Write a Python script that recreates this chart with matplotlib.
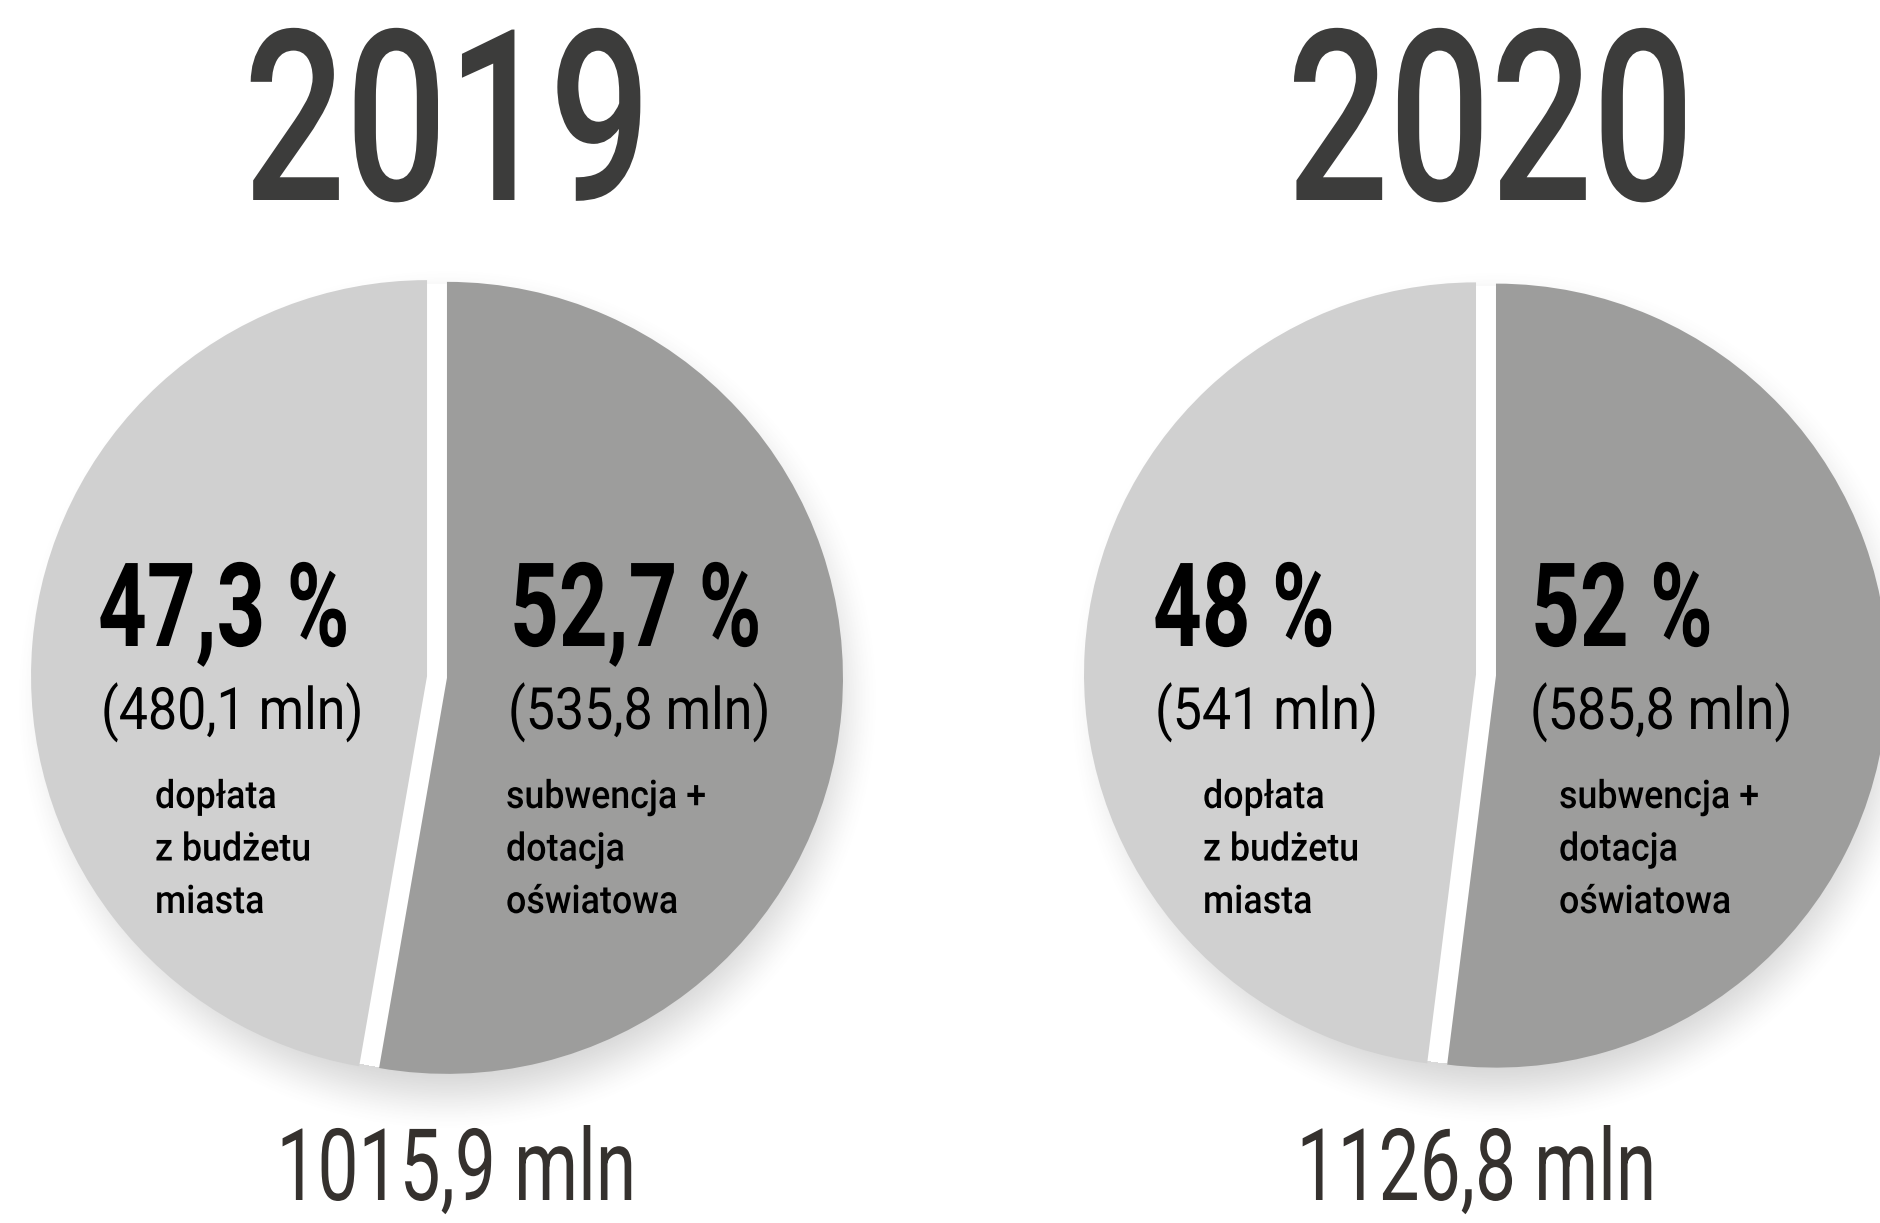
import numpy as np
import matplotlib
matplotlib.use("Agg")
import matplotlib.pyplot as plt
from matplotlib.patheffects import AbstractPathEffect
from matplotlib.transforms import Affine2D

W, H = 1880, 1223

# ── data ────────────────────────────────────────────────────────────────
years = ["2019", "2020"]
subsidy_mln = [535.8, 585.8]          # subwencja + dotacja oświatowa
city_mln = [480.1, 541.0]             # dopłata z budżetu miasta
subsidy_pct = ["52,7 %", "52 %"]
city_pct = ["47,3 %", "48 %"]
subsidy_amt = ["(535,8 mln)", "(585,8 mln)"]
city_amt = ["(480,1 mln)", "(541 mln)"]
subsidy_label = "subwencja +\ndotacja\noświatowa"
city_label = "dopłata\nz budżetu\nmiasta"
totals = ["1015,9 mln", "1126,8 mln"]

# ── layout (pixels, y measured from the top) ────────────────────────────
pie_cx = [437, 1486]
pie_cy = [677, 675]
pie_r = [396, 392]
pie_gap = 10                          # explode offset, px
title_x = [448, 1491]
total_x = [456, 1476]
left_pct_x = [98, 1153]
left_amt_x = [101, 1155]
left_lbl_x = [155, 1203]
right_pct_x = [510, 1531]
right_amt_x = [508, 1530]
right_lbl_x = [506, 1559]

C_LIGHT = "#d0d0d0"
C_SUB = "#9d9d9c"
C_TITLE = "#3c3c3b"
C_TOTAL = "#35312e"
FONT = "Roboto"


class Squeeze(AbstractPathEffect):
    """Narrow the glyphs horizontally (the source uses a condensed face)."""

    def __init__(self, sx, anchor="left"):
        super().__init__()
        self.sx = sx
        self.anchor = anchor

    def draw_path(self, renderer, gc, tpath, affine, rgbFace=None):
        cx = 0.0
        if self.anchor == "center":
            ext = tpath.get_extents()
            cx = 0.5 * (ext.x0 + ext.x1)
        sq = Affine2D().translate(-cx, 0).scale(self.sx, 1).translate(cx, 0)
        renderer.draw_path(gc, tpath, sq + affine, rgbFace)


def ty(y):
    return H - y


def text(ax, x, y, s, size, weight, sx, ha="left", color="black"):
    ax.text(x, ty(y), s, fontsize=size, fontweight=weight, family=FONT,
            color=color, ha=ha, va="baseline",
            path_effects=[Squeeze(sx, "center" if ha == "center" else "left")])


def shadow(ax, cx, cy, r, dx=10, dy=22, blur=38, amax=0.26):
    # soft drop shadow, kept off the pie itself so the wedge gap stays white
    pad = r + 120
    xs = np.arange(cx - pad, cx + pad)
    ys = np.arange(cy - pad, cy + pad)
    X, Y = np.meshgrid(xs, ys)
    d = np.hypot(X - (cx + dx), Y - (cy + dy))
    t = np.clip((r + blur - d) / (2 * blur), 0, 1)
    a = amax * t * t * (3 - 2 * t)
    a[np.hypot(X - cx, Y - cy) < r - 2] = 0
    img = np.zeros(X.shape + (4,))
    img[..., :3] = 0.35
    img[..., 3] = a
    ax.imshow(img, extent=(cx - pad, cx + pad, ty(cy + pad), ty(cy - pad)),
              origin="upper", zorder=0, interpolation="bilinear")


fig = plt.figure(figsize=(W / 100, H / 100), dpi=100)
ax = fig.add_axes([0, 0, 1, 1])

for i in range(2):
    cx, cy, r = pie_cx[i], pie_cy[i], pie_r[i]
    shadow(ax, cx, cy, r)
    # explode is in data units here (1 unit = 1 px)
    ax.pie([subsidy_mln[i], city_mln[i]], colors=[C_SUB, C_LIGHT],
           startangle=90, counterclock=False, explode=[pie_gap, pie_gap],
           radius=r, center=(cx, ty(cy)),
           wedgeprops=dict(linewidth=0, zorder=2))

    text(ax, title_x[i], 200, years[i], 172, "medium", 0.75, ha="center",
         color=C_TITLE)
    text(ax, total_x[i], 1200, totals[i], 72, "normal", 0.73, ha="center",
         color=C_TOTAL)

    text(ax, left_pct_x[i], 646, city_pct[i], 84, "bold", 0.73)
    text(ax, right_pct_x[i], 646, subsidy_pct[i], 84, "bold", 0.73)
    text(ax, left_amt_x[i], 729, city_amt[i], 42, "normal", 0.89)
    text(ax, right_amt_x[i], 729, subsidy_amt[i], 42, "normal", 0.89)

    for k, line in enumerate(city_label.split("\n")):
        text(ax, left_lbl_x[i], 808 + 52.5 * k, line, 28, "medium", 0.92)
    for k, line in enumerate(subsidy_label.split("\n")):
        text(ax, right_lbl_x[i], 808 + 52.5 * k, line, 28, "medium", 0.92)

ax.set_xlim(0, W)
ax.set_ylim(0, H)
ax.set_aspect("equal")
ax.axis("off")

fig.savefig("out.png", dpi=100, facecolor="white")
